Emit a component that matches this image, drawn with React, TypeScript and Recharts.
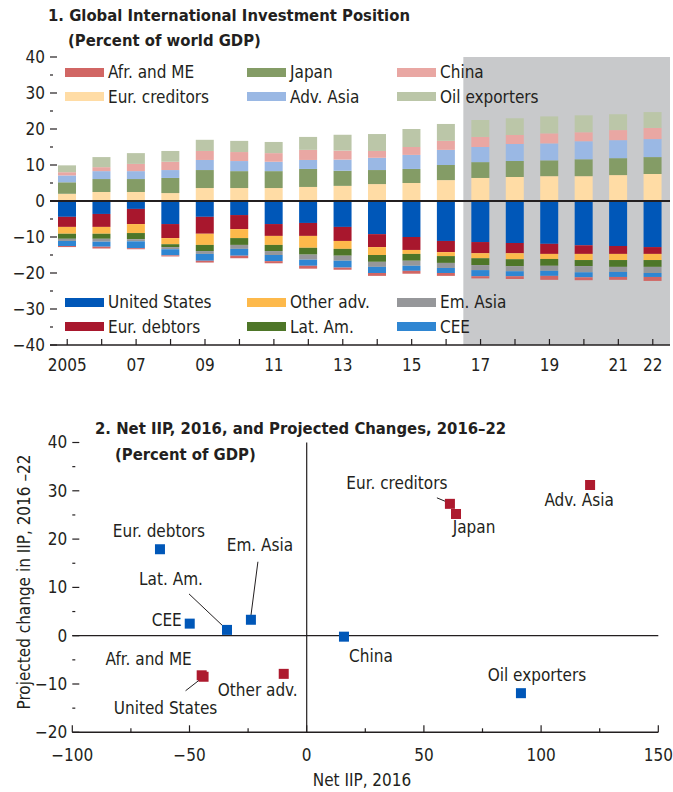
import React from "react";
import {
  BarChart,
  Bar,
  XAxis,
  YAxis,
  ReferenceLine,
  ReferenceArea,
  ScatterChart,
  Scatter,
} from "recharts";

const FONT = '"DejaVu Sans Condensed", "Liberation Sans Narrow", sans-serif';
const INK = "#231F20";
const FS = 17;

// ---- panel 1: global IIP, percent of world GDP ----
const YEARS = ["2005", "2006", "2007", "2008", "2009", "2010", "2011", "2012", "2013", "2014", "2015", "2016", "2017", "2018", "2019", "2020", "2021", "2022"];
const YEAR_LABELS = ["2005", "", "07", "", "09", "", "11", "", "13", "", "15", "", "17", "", "19", "", "21", "22"];
const Y1_TICKS = [-40, -35, -30, -25, -20, -15, -10, -5, 0, 5, 10, 15, 20, 25, 30, 35, 40];

const US = [-4.4, -3.6, -2.2, -6.4, -4.4, -3.9, -6.4, -6.1, -7.2, -9.2, -10.0, -11.1, -11.4, -11.7, -11.9, -12.3, -12.5, -12.8];
const EUR_DEBTORS = [-2.8, -3.6, -4.2, -3.9, -4.7, -3.9, -3.3, -3.6, -3.9, -3.6, -3.6, -3.1, -3.1, -2.8, -2.8, -2.4, -2.2, -1.9];
const OTHER_ADV = [-1.9, -1.9, -2.5, -1.7, -3.1, -2.5, -2.5, -3.3, -2.2, -2.2, -1.1, -1.1, -1.4, -1.7, -1.4, -1.7, -1.7, -1.7];
const LAT_AM = [-1.4, -1.4, -1.7, -0.8, -1.7, -1.9, -1.7, -1.9, -1.9, -1.9, -1.9, -1.9, -1.9, -1.9, -1.9, -1.7, -1.9, -1.9];
const EM_ASIA = [-0.6, -0.8, -0.6, -0.6, -0.8, -1.1, -1.1, -1.4, -1.4, -1.4, -1.4, -1.4, -1.4, -1.4, -1.4, -1.7, -1.4, -1.7];
const CEE = [-1.4, -1.4, -1.9, -1.7, -1.9, -1.9, -1.7, -1.7, -1.9, -1.7, -1.4, -1.4, -1.7, -1.4, -1.4, -1.4, -1.4, -1.1];
const AFR_ME = [-0.3, -0.5, -0.3, -0.3, -0.5, -0.7, -0.6, -0.8, -0.6, -0.8, -0.8, -0.8, -0.6, -0.8, -1.1, -0.8, -0.8, -1.1];
const EUR_CREDITORS = [2.0, 2.5, 2.5, 2.2, 3.6, 3.6, 3.6, 3.9, 4.2, 4.7, 5.0, 5.8, 6.4, 6.7, 6.9, 6.9, 7.2, 7.5];
const JAPAN = [3.2, 3.6, 3.6, 4.2, 5.0, 4.7, 4.7, 5.0, 4.2, 3.9, 3.9, 4.2, 4.4, 4.4, 4.4, 4.7, 4.7, 4.7];
const ADV_ASIA = [1.9, 2.2, 2.2, 2.2, 2.8, 2.8, 2.6, 2.5, 3.1, 3.4, 3.9, 4.2, 4.2, 4.7, 4.7, 5.0, 5.0, 5.0];
const CHINA = [0.9, 1.1, 2.0, 2.3, 2.5, 2.5, 2.4, 2.8, 2.5, 1.9, 2.2, 2.5, 2.8, 2.5, 2.8, 2.5, 2.8, 3.1];
const OIL = [1.9, 2.8, 3.0, 3.0, 3.1, 3.1, 3.1, 3.6, 4.4, 4.7, 5.0, 4.7, 4.7, 4.7, 4.7, 4.7, 4.4, 4.4];

// projections start with 2017 (index into YEARS)
const PROJ_START = 12;

// stack order: negatives go down in this order, positives go up
const BAR_SERIES = [
  { key: "United States", values: US, color: "#0057B8" },
  { key: "Eur. debtors", values: EUR_DEBTORS, color: "#A8172D" },
  { key: "Other adv.", values: OTHER_ADV, color: "#FDB94B" },
  { key: "Lat. Am.", values: LAT_AM, color: "#4E7628" },
  { key: "Em. Asia", values: EM_ASIA, color: "#96979A" },
  { key: "CEE", values: CEE, color: "#2F86D2" },
  { key: "Afr. and ME", values: AFR_ME, color: "#D16664" },
  { key: "Eur. creditors", values: EUR_CREDITORS, color: "#FFDCA5" },
  { key: "Japan", values: JAPAN, color: "#849C66" },
  { key: "Adv. Asia", values: ADV_ASIA, color: "#9AB8E4" },
  { key: "China", values: CHINA, color: "#E9A7A3" },
  { key: "Oil exporters", values: OIL, color: "#BBC6A8" },
];

const LEGEND_TOP = [["Afr. and ME", "Japan", "China"], ["Eur. creditors", "Adv. Asia", "Oil exporters"]];
const LEGEND_BOTTOM = [["United States", "Other adv.", "Em. Asia"], ["Eur. debtors", "Lat. Am.", "CEE"]];

// ---- panel 2: net IIP 2016 vs projected change 2016-22 ----
const NAMES = ["Eur. debtors", "Em. Asia", "Lat. Am.", "CEE", "China", "Oil exporters", "Afr. and ME", "United States", "Other adv.", "Eur. creditors", "Japan", "Adv. Asia"];
const NET_IIP_2016 = [-62.6, -23.8, -34.0, -49.9, 15.9, 91.4, -44.8, -44.0, -9.8, 61.1, 63.7, 120.9];
const PROJ_CHANGE = [17.9, 3.3, 1.2, 2.5, -0.2, -11.9, -8.2, -8.5, -7.9, 27.3, 25.2, 31.2];
const GROUP = ["blue", "blue", "blue", "blue", "blue", "blue", "red", "red", "red", "red", "red", "red"];
const X2_TICKS = [-100, -75, -50, -25, 0, 25, 50, 75, 100, 125, 150];
const Y2_TICKS = [-20, -15, -10, -5, 0, 5, 10, 15, 20, 25, 30, 35, 40];

const POINT_COLORS: Record<string, string> = { blue: "#0057B8", red: "#AD1A2E" };

// label placement relative to the marker centre: [dx, dy, anchor]
const LABEL_POS: Record<string, [number, number, string]> = {
  "Eur. debtors": [-1, -18, "middle"],
  "Em. Asia": [9, -75, "middle"],
  "Lat. Am.": [-56, -51, "middle"],
  CEE: [-8, -4, "end"],
  China: [27, 19, "middle"],
  "Oil exporters": [16, -18, "middle"],
  "Afr. and ME": [-53, -16, "middle"],
  "United States": [-38, 31, "middle"],
  "Other adv.": [-26, 16, "middle"],
  "Eur. creditors": [-53, -21, "middle"],
  Japan: [18, 13, "middle"],
  "Adv. Asia": [-11, 15, "middle"],
};
// leader lines: [x1, y1, x2, y2] relative to marker centre
const LEADERS: Record<string, number[]> = {
  "Em. Asia": [7, -58, 0, -4],
  "Lat. Am.": [-38, -36, -1, -1],
  "United States": [-18, 14, 0, 0],
  "Eur. creditors": [-13, -6, -1, -1],
};

const fmt = (v: number) => (v < 0 ? "\u2212" + Math.abs(v) : String(v));

const textStyle = { fontFamily: FONT, fontSize: FS, fill: INK };

function LeftTick(props: any, long: number, short: number) {
  const { x, y, payload } = props;
  const major = payload.value % 10 === 0;
  return (
    <g>
      <line x1={x} x2={x + (major ? long : short)} y1={y} y2={y} stroke={INK} strokeWidth={1.2} />
      {major && (
        <text x={x - 5} y={y} dy="0.35em" textAnchor="end" {...textStyle}>
          {fmt(payload.value)}
        </text>
      )}
    </g>
  );
}

function RightTick(props: any, long: number, short: number) {
  const { x, y, payload } = props;
  const major = payload.value % 10 === 0;
  return <line x1={x} x2={x - (major ? long : short)} y1={y} y2={y} stroke={INK} strokeWidth={1.2} />;
}

function Legend({ rows, top }: { rows: string[][]; top: number }) {
  const cols = [65, 247, 397];
  return (
    <>
      {rows.map((row, r) =>
        row.map((name, c) => {
          const s = BAR_SERIES.find((b) => b.key === name)!;
          const cy = top + r * 24.5;
          return (
            <div key={name}>
              <div style={{ position: "absolute", left: cols[c], top: cy - 4.5, width: 39, height: 9, background: s.color }} />
              <div style={{ position: "absolute", left: cols[c] + 43, top: cy - 10, lineHeight: "20px", fontSize: FS, fontFamily: FONT, color: INK, whiteSpace: "nowrap" }}>
                {name}
              </div>
            </div>
          );
        })
      )}
    </>
  );
}

function PointShape(props: any) {
  const { cx, cy, payload } = props;
  const color = POINT_COLORS[payload.group];
  const lp = LABEL_POS[payload.name];
  const ld = LEADERS[payload.name];
  return (
    <g>
      {ld && <line x1={cx + ld[0]} y1={cy + ld[1]} x2={cx + ld[2]} y2={cy + ld[3]} stroke={INK} strokeWidth={1} />}
      <rect x={cx - 5} y={cy - 5} width={10} height={10} fill={color} />
      <text x={cx + lp[0]} y={cy + lp[1]} dy="0.35em" textAnchor={lp[2] as any} {...textStyle}>
        {payload.name}
      </text>
    </g>
  );
}

const title: React.CSSProperties = { position: "absolute", fontFamily: FONT, fontWeight: "bold", fontSize: 16.5, lineHeight: "20px", color: INK, whiteSpace: "nowrap" };
const plain: React.CSSProperties = { position: "absolute", fontFamily: FONT, fontSize: FS, lineHeight: "20px", color: INK, whiteSpace: "nowrap" };

export default function App() {
  const barData = YEARS.map((year, i) => {
    const row: Record<string, any> = { year, idx: i };
    BAR_SERIES.forEach((s) => (row[s.key] = s.values[i]));
    return row;
  });
  const points = NAMES.map((name, i) => ({ name, x: NET_IIP_2016[i], y: PROJ_CHANGE[i], group: GROUP[i] }));

  return (
    <div style={{ position: "absolute", left: 0, top: 0, width: 673, height: 792, background: "#fff", overflow: "hidden" }}>
      <div style={{ position: "absolute", left: 0, top: 0 }}>
        <BarChart width={673} height={380} data={barData} stackOffset="sign" barSize={18} margin={{ top: 57, right: 3, bottom: 5, left: 0 }}>
          <XAxis xAxisId="idx" dataKey="idx" type="number" domain={[-0.5, YEARS.length - 0.5]} allowDataOverflow hide />
          <ReferenceArea xAxisId="idx" x1={PROJ_START - 0.5} x2={YEARS.length - 0.5} y1={-40} y2={40} fill="#C8C9CB" fillOpacity={1} stroke="none" />
          <XAxis
            dataKey="year"
            interval={0}
            height={30}
            tickSize={0}
            tickMargin={0}
            tickLine={false}
            axisLine={{ stroke: INK, strokeWidth: 1.5 }}
            tick={(p: any) => (
              <g>
                <line x1={p.x} x2={p.x} y1={p.y} y2={p.y - 6} stroke={INK} strokeWidth={1.2} />
                <text x={p.x} y={p.y + 20} dy="0.35em" textAnchor="middle" {...textStyle}>
                  {YEAR_LABELS[p.index ?? YEARS.indexOf(p.payload.value)]}
                </text>
              </g>
            )}
          />
          <YAxis domain={[-40, 40]} ticks={Y1_TICKS} interval={0} width={50} tickSize={0} tickMargin={0} axisLine={false} tickLine={false} tick={(p: any) => LeftTick(p, 7, 3)} />
          <YAxis yAxisId="r" orientation="right" domain={[-40, 40]} ticks={Y1_TICKS} interval={0} allowDataOverflow width={0} tickSize={0} tickMargin={0} axisLine={false} tickLine={false} tick={(p: any) => RightTick(p, 7, 3)} />
          {BAR_SERIES.map((s) => (
            <Bar key={s.key} dataKey={s.key} stackId="a" fill={s.color} isAnimationActive={false} />
          ))}
          <ReferenceLine y={0} stroke={INK} strokeWidth={2} />
        </BarChart>
      </div>
      <div style={{ ...title, left: 48, top: 6 }}>1. Global International Investment Position</div>
      <div style={{ ...title, left: 68, top: 31 }}>(Percent of world GDP)</div>
      <Legend rows={LEGEND_TOP} top={72} />
      <Legend rows={LEGEND_BOTTOM} top={302} />

      <div style={{ position: "absolute", left: 0, top: 380 }}>
        <ScatterChart width={673} height={412} margin={{ top: 62.5, right: 14.7, bottom: 29.7, left: 0 }}>
          <XAxis
            type="number"
            dataKey="x"
            domain={[-100, 150]}
            ticks={X2_TICKS}
            interval={0}
            height={30}
            tickSize={0}
            tickMargin={0}
            tickLine={false}
            axisLine={{ stroke: INK, strokeWidth: 1.5 }}
            tick={(p: any) => {
              const major = p.payload.value % 50 === 0;
              return (
                <g>
                  <line x1={p.x} x2={p.x} y1={p.y} y2={p.y - (major ? 7 : 4)} stroke={INK} strokeWidth={1.2} />
                  {major && (
                    <text x={p.x} y={p.y + 23} dy="0.35em" textAnchor="middle" {...textStyle}>
                      {fmt(p.payload.value)}
                    </text>
                  )}
                </g>
              );
            }}
          />
          <YAxis type="number" dataKey="y" domain={[-20, 40]} ticks={Y2_TICKS} interval={0} width={72.3} tickSize={0} tickMargin={0} axisLine={false} tickLine={false} tick={(p: any) => LeftTick(p, 7, 3)} />
          <YAxis yAxisId="r" orientation="right" type="number" domain={[-20, 40]} ticks={Y2_TICKS} interval={0} allowDataOverflow width={0} tickSize={0} tickMargin={0} axisLine={false} tickLine={false} tick={(p: any) => RightTick(p, 8, 4)} />
          <ReferenceLine x={0} stroke={INK} strokeWidth={1.2} />
          <ReferenceLine y={0} stroke={INK} strokeWidth={1.2} />
          <Scatter data={points} shape={PointShape} isAnimationActive={false} />
        </ScatterChart>
      </div>
      <div style={{ ...title, left: 95, top: 419 }}>2. Net IIP, 2016, and Projected Changes, 2016–22</div>
      <div style={{ ...title, left: 115, top: 445 }}>(Percent of GDP)</div>
      <div style={{ ...plain, left: 362, top: 770, transform: "translateX(-50%)" }}>Net IIP, 2016</div>
      <div style={{ ...plain, left: 24, top: 582, transform: "translate(-50%, -50%) rotate(-90deg)" }}>Projected change in IIP, 2016 –22</div>
    </div>
  );
}
